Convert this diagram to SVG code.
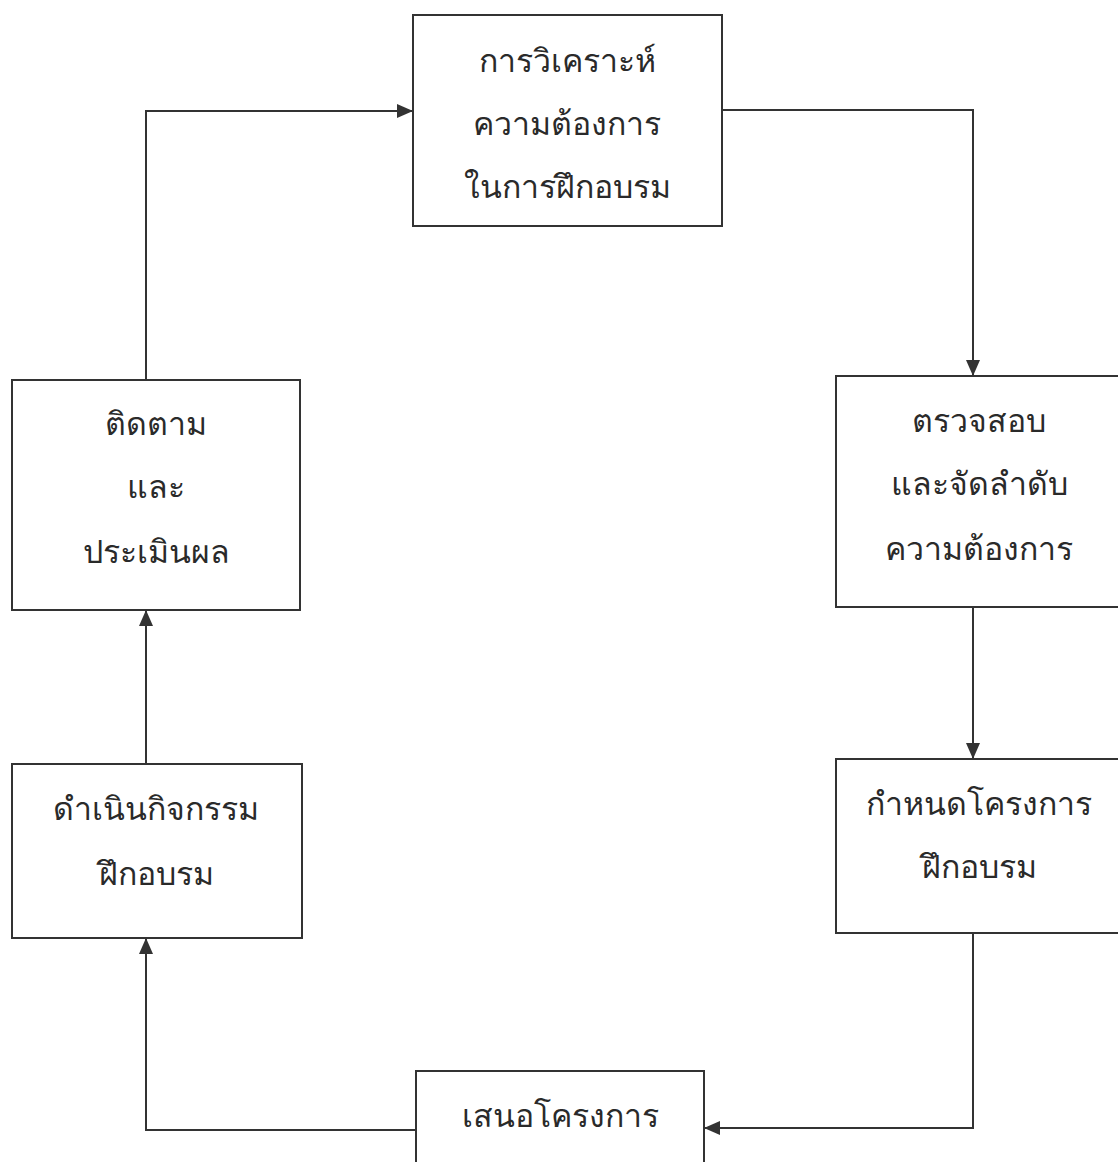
<svg xmlns="http://www.w3.org/2000/svg" width="1118" height="1162" viewBox="0 0 1118 1162">
<style>
.box{fill:#fff;stroke:#333;stroke-width:2}
.ln{fill:none;stroke:#333;stroke-width:2}
.t{font-family:"Noto Sans",sans-serif;font-size:32px;font-weight:300;fill:#2a2a2a;text-anchor:middle}
</style>
<defs>
<marker id="ah" viewBox="0 0 16 14" refX="16" refY="7" markerWidth="16" markerHeight="14" markerUnits="userSpaceOnUse" orient="auto">
<path d="M0,0 L16,7 L0,14 Z" fill="#333"/>
</marker>
</defs>
<rect width="1118" height="1162" fill="#fff"/>
<g id="connectors">
<path class="ln" d="M722,110 H973 V376" marker-end="url(#ah)"/>
<path class="ln" d="M973,607 V759" marker-end="url(#ah)"/>
<path class="ln" d="M973,933 V1128 H704" marker-end="url(#ah)"/>
<path class="ln" d="M416,1130 H146 V938" marker-end="url(#ah)"/>
<path class="ln" d="M146,764 V610" marker-end="url(#ah)"/>
<path class="ln" d="M146,380 V111 H413" marker-end="url(#ah)"/>
</g>
<g id="n1">
<rect class="box" x="413" y="15" width="309" height="211"/>
<text class="t" x="567" y="72">การวิเคราะห์</text>
<text class="t" x="567" y="135">ความต้องการ</text>
<text class="t" x="567" y="198">ในการฝึกอบรม</text>
</g>
<g id="n2">
<rect class="box" x="836" y="376" width="284" height="231"/>
<text class="t" x="979" y="432">ตรวจสอบ</text>
<text class="t" x="979" y="495">และจัดลำดับ</text>
<text class="t" x="979" y="560">ความต้องการ</text>
</g>
<g id="n3">
<rect class="box" x="836" y="759" width="284" height="174"/>
<text class="t" x="979" y="815">กำหนดโครงการ</text>
<text class="t" x="979" y="878">ฝึกอบรม</text>
</g>
<g id="n4">
<rect class="box" x="416" y="1071" width="288" height="100"/>
<text class="t" x="560" y="1127">เสนอโครงการ</text>
</g>
<g id="n5">
<rect class="box" x="12" y="764" width="290" height="174"/>
<text class="t" x="156" y="820">ดำเนินกิจกรรม</text>
<text class="t" x="156" y="885">ฝึกอบรม</text>
</g>
<g id="n6">
<rect class="box" x="12" y="380" width="288" height="230"/>
<text class="t" x="156" y="435">ติดตาม</text>
<text class="t" x="156" y="498">และ</text>
<text class="t" x="156" y="563">ประเมินผล</text>
</g>
</svg>
